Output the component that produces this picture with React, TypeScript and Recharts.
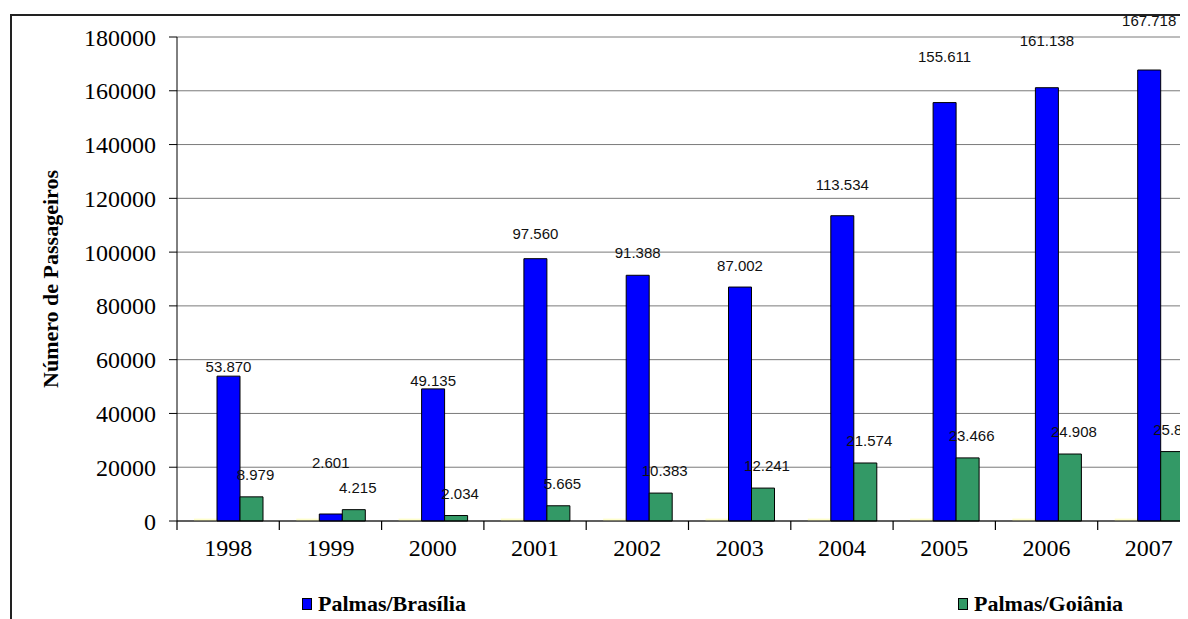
import React from 'react';
import { BarChart, Bar, XAxis, YAxis, CartesianGrid, LabelList } from 'recharts';

// Passageiros por rota, 1998-2007
const years = ['1998', '1999', '2000', '2001', '2002', '2003', '2004', '2005', '2006', '2007'];
const palmasBrasilia = [53870, 2601, 49135, 97560, 91388, 87002, 113534, 155611, 161138, 167718];
const palmasGoiania = [8979, 4215, 2034, 5665, 10383, 12241, 21574, 23466, 24908, 25818];
// thin pale-yellow series sitting on the baseline (no legend entry visible)
const outros = [900, 900, 900, 900, 900, 900, 900, 900, 900, 900];
const yTicks = [0, 20000, 40000, 60000, 80000, 100000, 120000, 140000, 160000, 180000];

const chartData = years.map((year, i) => ({
  year,
  outros: outros[i],
  brasilia: palmasBrasilia[i],
  goiania: palmasGoiania[i],
}));

const SERIF = "'Liberation Serif', 'Times New Roman', serif";
const SANS = "'Liberation Sans', Arial, sans-serif";

const CHART_W = 1202;
const CHART_H = 553;
const TOP = 29;
const PLOT_H = 484;
const PLOT_BOTTOM = TOP + PLOT_H;
const Y_AXIS_W = 169;
const RIGHT = 10;
const BAND = (CHART_W - Y_AXIS_W - RIGHT) / years.length;

const fmt = (v: number) => v.toLocaleString('de-DE');

// x axis tick: label at the category centre, tick marks at the category boundaries
function renderYearTick(props: any) {
  const { x, payload, index } = props;
  const cx = Number(x);
  return (
    <g key={`yt-${index}`}>
      <path d={`M${cx - BAND / 2},${PLOT_BOTTOM}v9`} stroke="#000" strokeWidth={1.2} fill="none" />
      {index === years.length - 1 && (
        <path d={`M${cx + BAND / 2},${PLOT_BOTTOM}v9`} stroke="#000" strokeWidth={1.2} fill="none" />
      )}
      <text
        x={cx}
        y={PLOT_BOTTOM + 15}
        dy="0.85em"
        textAnchor="middle"
        fontFamily="Liberation Serif"
        fontSize={24}
        fill="#000"
        stroke="none"
      >
        {payload.value}
      </text>
    </g>
  );
}

function renderBlueLabel(props: any) {
  const { x, y, width, height, value, index } = props;
  const base = y + height;
  const ly = Math.min(base + 9 - 1.13 * height, base - 58);
  return (
    <text
      key={`bl-${index}`}
      x={x + width / 2}
      y={ly}
      dy="0.35em"
      textAnchor="middle"
      fontFamily="Liberation Sans"
      fontSize={15}
      fill="#111"
    >
      {fmt(value)}
    </text>
  );
}

function renderGreenLabel(props: any) {
  const { x, y, width, value, index } = props;
  return (
    <text
      key={`gl-${index}`}
      x={x + width / 2 + 4}
      y={y - 22}
      dy="0.35em"
      textAnchor="middle"
      fontFamily="Liberation Sans"
      fontSize={15}
      fill="#111"
    >
      {fmt(value)}
    </text>
  );
}

const legendItems = [
  { name: 'Palmas/Brasília', color: '#0000FF', left: 294 },
  { name: 'Palmas/Goiânia', color: '#339966', left: 950 },
];

export default function App() {
  return (
    <div style={{ position: 'relative', width: 1180, height: 611, overflow: 'hidden', background: '#fff' }}>
      <div
        style={{
          position: 'absolute',
          left: 2,
          top: 6,
          width: 1300,
          height: 800,
          border: '2px solid #222',
        }}
      />
      <div style={{ position: 'absolute', left: 0, top: 0 }}>
        <BarChart
          width={CHART_W}
          height={CHART_H}
          data={chartData}
          margin={{ top: TOP, right: RIGHT, left: 0, bottom: 0 }}
          barCategoryGap={17}
          barGap={0}
        >
          <CartesianGrid vertical={false} stroke="#7a7a7a" />
          <XAxis
            dataKey="year"
            axisLine={{ stroke: '#000' }}
            tickLine={false}
            tickSize={8}
            tickMargin={7}
            height={CHART_H - PLOT_BOTTOM}
            interval={0}
            tick={renderYearTick}
          />
          <YAxis
            width={Y_AXIS_W}
            domain={[0, 180000]}
            ticks={yTicks}
            interval={0}
            axisLine={{ stroke: '#000' }}
            tickLine={{ stroke: '#000' }}
            tickSize={8}
            tickMargin={13}
            tick={{ fontFamily: SERIF, fontSize: 24, fill: '#000' }}
            label={{
              value: 'Número de Passageiros',
              angle: -90,
              position: 'insideLeft',
              offset: 42,
              style: { textAnchor: 'middle', fontFamily: SERIF, fontWeight: 'bold', fontSize: 22, fill: '#000' },
            }}
          />
          <Bar dataKey="outros" fill="#FFFFCC" isAnimationActive={false} />
          <Bar dataKey="brasilia" fill="#0000FF" stroke="#000" strokeWidth={1} isAnimationActive={false}>
            <LabelList dataKey="brasilia" content={renderBlueLabel} />
          </Bar>
          <Bar dataKey="goiania" fill="#339966" stroke="#000" strokeWidth={1} isAnimationActive={false}>
            <LabelList dataKey="goiania" content={renderGreenLabel} />
          </Bar>
        </BarChart>
      </div>
      {legendItems.map((item) => (
        <div
          key={item.name}
          style={{
            position: 'absolute',
            left: item.left,
            top: 584,
            display: 'flex',
            alignItems: 'center',
            fontFamily: SERIF,
            fontWeight: 'bold',
            fontSize: 22,
            lineHeight: '24px',
            color: '#000',
          }}
        >
          <span
            style={{
              display: 'inline-block',
              width: 8,
              height: 10,
              background: item.color,
              border: '1px solid #000',
              marginRight: 6,
            }}
          />
          {item.name}
        </div>
      ))}
    </div>
  );
}
